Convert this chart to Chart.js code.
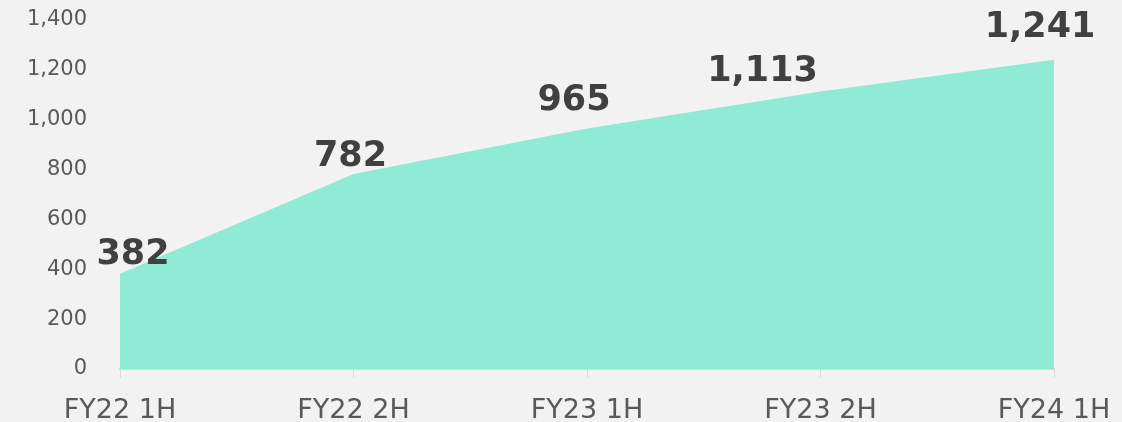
<!DOCTYPE html>
<html>
<head>
<meta charset="utf-8">
<script src="https://cdn.jsdelivr.net/npm/chart.js@4"></script>
<style>
  html, body { margin: 0; padding: 0; background: #f2f2f2; }
  #wrap { width: 1122px; height: 422px; }
</style>
</head>
<body>
<div id="wrap"><canvas id="areaChart"></canvas></div>
<script>
// --- data ---
const categories = ['FY22 1H', 'FY22 2H', 'FY23 1H', 'FY23 2H', 'FY24 1H'];
const values = [382, 782, 965, 1113, 1241];
const yTicks = [0, 200, 400, 600, 800, 1000, 1200, 1400];

// label nudges (px) so the value labels sit like the original
const labelNudge = [[13, -19], [-3, -17], [-13, -28], [-58, -20], [-14, -32]];

const FONT = "'DejaVu Sans', Verdana, sans-serif";

const valueLabels = {
    id: 'valueLabels',
    afterDatasetsDraw(chart) {
        const ctx = chart.ctx;
        const meta = chart.getDatasetMeta(0);
        ctx.save();
        ctx.font = `bold 35px ${FONT}`;
        ctx.fillStyle = '#404040';
        ctx.textAlign = 'center';
        ctx.textBaseline = 'middle';
        meta.data.forEach((pt, i) => {
            const [dx, dy] = labelNudge[i];
            ctx.fillText(values[i].toLocaleString('en-US'), pt.x + dx, pt.y + dy);
        });
        ctx.restore();
    }
};

new Chart(document.getElementById('areaChart'), {
    type: 'line',
    data: {
        labels: categories,
        datasets: [{
            data: values,
            fill: 'origin',
            backgroundColor: '#90ebd4',
            borderWidth: 0,
            pointRadius: 0,
            tension: 0
        }]
    },
    plugins: [valueLabels],
    options: {
        responsive: true,
        maintainAspectRatio: false,
        animation: false,
        layout: { padding: { top: 20, right: 68, bottom: 0, left: 0 } },
        plugins: { legend: { display: false }, tooltip: { enabled: false } },
        scales: {
            x: {
                offset: false,
                grid: { drawOnChartArea: false, drawTicks: true, tickLength: 9, color: '#d9d9d9' },
                border: { display: true, color: '#d9d9d9', width: 2 },
                ticks: { color: '#595959', font: { family: FONT, size: 27 }, padding: 17, maxRotation: 0 },
                afterFit(scale) {
                    scale.height = 53;
                    scale.paddingLeft = 0;
                    scale.paddingRight = 0;
                }
            },
            y: {
                min: 0,
                max: 1400,
                afterBuildTicks(scale) { scale.ticks = yTicks.map(v => ({ value: v })); },
                grid: { display: false, drawTicks: false },
                border: { display: false },
                ticks: {
                    color: '#595959',
                    font: { family: FONT, size: 21 },
                    padding: 33,
                    callback: v => v.toLocaleString('en-US')
                },
                afterFit(scale) {
                    scale.width = 120;
                    scale.paddingTop = 0;
                    scale.paddingBottom = 0;
                }
            }
        }
    }
});
</script>
</body>
</html>
